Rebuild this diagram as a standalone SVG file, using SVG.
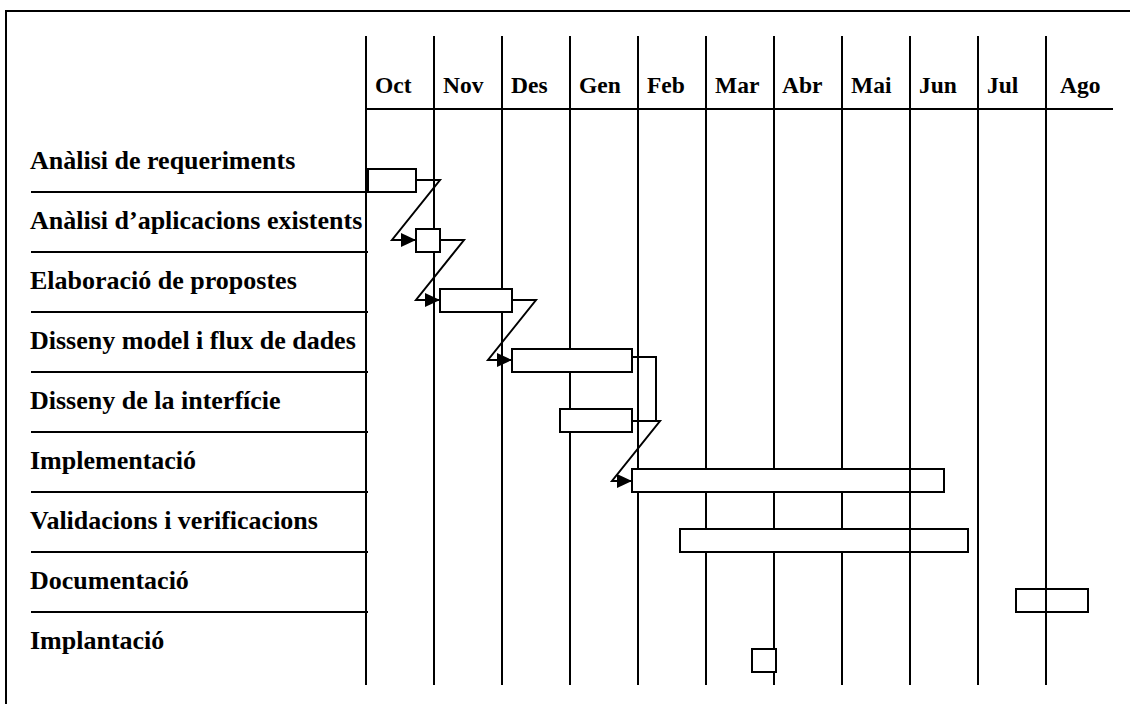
<svg xmlns="http://www.w3.org/2000/svg" width="1130" height="704" viewBox="0 0 1130 704">
  <style>
    .ln { stroke: #000; stroke-width: 2; fill: none; }
    .bar { stroke: #000; stroke-width: 2; fill: #fff; }
    .mon { font-family: "Liberation Serif", "Times New Roman", serif; font-weight: bold; font-size: 23.5px; fill: #000; }
    .lbl { font-family: "Liberation Serif", "Times New Roman", serif; font-weight: bold; font-size: 26px; fill: #000; }
    .con { stroke: #000; stroke-width: 2; fill: none; marker-end: url(#arr); }
  </style>
  <defs>
    <marker id="arr" markerUnits="userSpaceOnUse" markerWidth="16" markerHeight="14" refX="15" refY="7" orient="auto">
      <path d="M0,0 L15,7 L0,14 Z" fill="#000"/>
    </marker>
  </defs>
  <rect width="1130" height="704" fill="#fff"/>

  <!-- page frame -->
  <path class="ln" d="M6,704 V11 H1130"/>

  <!-- grid: row separators, header rule, month columns -->
  <g id="grid">
    <path class="ln" d="M31,192 H368 M31,252 H368 M31,312 H368 M31,372 H368 M31,432 H368 M31,492 H368 M31,552 H368 M31,612 H368"/>
    <path class="ln" d="M366,109 H1113"/>
    <path class="ln" d="M366,36 V685 M434,36 V685 M502,36 V685 M570,36 V685 M638,36 V685 M706,36 V685 M774,36 V685 M842,36 V685 M978,36 V685"/>
  </g>

  <!-- month headings -->
  <g id="months">
    <text class="mon" x="375" y="93">Oct</text>
    <text class="mon" x="443" y="93">Nov</text>
    <text class="mon" x="511" y="93">Des</text>
    <text class="mon" x="579" y="93">Gen</text>
    <text class="mon" x="647" y="93">Feb</text>
    <text class="mon" x="715" y="93">Mar</text>
    <text class="mon" x="782" y="93">Abr</text>
    <text class="mon" x="851" y="93">Mai</text>
    <text class="mon" x="919" y="93">Jun</text>
    <text class="mon" x="987" y="93">Jul</text>
    <text class="mon" x="1060" y="93">Ago</text>
  </g>

  <!-- tasks -->
  <g id="task-analisi-requeriments">
    <text class="lbl" x="30" y="168.5">Anàlisi de requeriments</text>
    <rect class="bar" x="368" y="169" width="48" height="23"/>
  </g>
  <g id="task-analisi-aplicacions">
    <text class="lbl" x="30" y="228.5">Anàlisi d’aplicacions existents</text>
    <rect class="bar" x="416" y="229" width="24" height="23"/>
  </g>
  <g id="task-elaboracio-propostes">
    <text class="lbl" x="30" y="288.5">Elaboració de propostes</text>
    <rect class="bar" x="440" y="289" width="72" height="23"/>
  </g>
  <g id="task-disseny-model">
    <text class="lbl" x="30" y="348.5">Disseny model i flux de dades</text>
    <rect class="bar" x="512" y="349" width="120" height="23"/>
  </g>
  <g id="task-disseny-interficie">
    <text class="lbl" x="30" y="408.5">Disseny de la interfície</text>
    <rect class="bar" x="560" y="409" width="72" height="23"/>
  </g>
  <g id="task-implementacio">
    <text class="lbl" x="30" y="468.5">Implementació</text>
    <rect class="bar" x="632" y="469" width="312" height="23"/>
  </g>
  <g id="task-validacions">
    <text class="lbl" x="30" y="528.5">Validacions i verificacions</text>
    <rect class="bar" x="680" y="529" width="288" height="23"/>
  </g>
  <g id="task-documentacio">
    <text class="lbl" x="30" y="588.5">Documentació</text>
    <rect class="bar" x="1016" y="589" width="72" height="23"/>
  </g>
  <g id="task-implantacio">
    <text class="lbl" x="30" y="648.5">Implantació</text>
    <rect class="bar" x="752" y="649" width="24" height="23"/>
  </g>

  <!-- dependency links -->
  <g id="connectors">
    <polyline class="con" points="416,180 440,180 392,240 416,240"/>
    <polyline class="con" points="440,240 464,240 416,300 440,300"/>
    <polyline class="con" points="512,300 536,300 488,360 512,360"/>
    <polyline class="ln" points="632,357 656,357 656,421"/>
    <polyline class="con" points="632,421 660,421 612,481 632,481"/>
  </g>

  <!-- columns drawn over the bars -->
  <path class="ln" d="M910,36 V685 M1046,36 V685"/>
</svg>
